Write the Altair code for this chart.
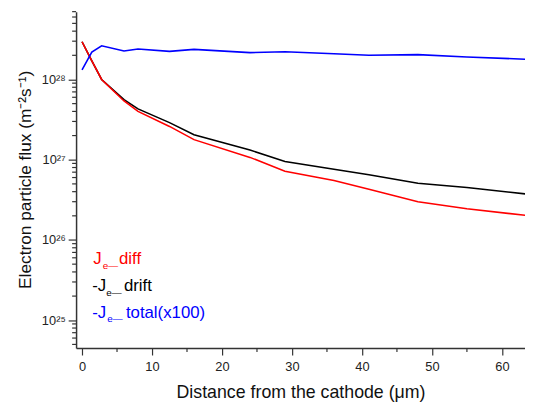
import altair as alt
import pandas as pd

# Data (x in µm, flux in m^-2 s^-1)
x_um = [0, 1.4, 2.8, 6, 8, 12.5, 16, 24, 29, 36, 41, 48, 55, 64]
j_diff = [2.95e28, 1.70e28, 1.0e28, 5.4e27, 4.0e27, 2.6e27, 1.78e27, 1.07e27,
          7.2e26, 5.5e26, 4.3e26, 3.0e26, 2.45e26, 2.0e26]
j_drift = [2.95e28, 1.70e28, 1.0e28, 5.6e27, 4.3e27, 2.9e27, 2.05e27, 1.32e27,
           9.5e26, 7.6e26, 6.5e26, 5.1e26, 4.5e26, 3.7e26]
j_total = [1.32e28, 2.19e28, 2.63e28, 2.26e28, 2.40e28, 2.24e28, 2.37e28, 2.16e28,
           2.22e28, 2.09e28, 2.0e28, 2.04e28, 1.91e28, 1.78e28]

series_names = ["diff", "drift", "total"]
series_colors = ["#ff0000", "#000000", "#0000ff"]

x_major = [0, 10, 20, 30, 40, 50, 60]
x_minor = [5, 15, 25, 35, 45, 55]
y_decades = [25, 26, 27, 28]
y_min, y_max = 4.5e24, 7e28

legend_prefix = ["J", "-J", "-J"]
legend_suffix = ["diff", "drift", "total(x100)"]

PLOT_W = 455
PLOT_H = 341
x_scale = alt.Scale(domain=[-0.85, 63.3], nice=False, zero=False)
y_scale = alt.Scale(type="log", domain=[y_min, y_max], nice=False)

y_major = [10.0 ** e for e in y_decades]
y_minor = []
for e in range(24, 29):
    for m in range(2, 10):
        v = m * 10.0 ** e
        if y_min <= v <= y_max:
            y_minor.append(v)

sup = {25: "10²⁵", 26: "10²⁶", 27: "10²⁷", 28: "10²⁸"}
lab = "''"
for e in y_decades:
    lab = f"round(log(datum.value)/LN10) == {e} ? '{sup[e]}' : ({lab})"

FONT = "Liberation Sans"
AX = "#333333"

x_axis = alt.Axis(values=x_major, title="Distance from the cathode (μm)",
                  tickSize=7, grid=False, domainColor=AX, tickColor=AX, labelColor="#222",
                  labelFontSize=13, labelPadding=6, titleFontSize=18,
                  titleFontWeight="normal", titlePadding=10, titleColor="#111",
                  labelFont=FONT, titleFont=FONT, domainWidth=1.5, tickWidth=1.2)
y_axis = alt.Axis(values=y_major, title="Electron particle flux (m⁻²s⁻¹)",
                  labelExpr=lab, tickSize=8,
                  grid=False, domainColor=AX, tickColor=AX, labelColor="#222",
                  labelFontSize=13, labelPadding=3, titleFontSize=17.5,
                  titleFontWeight="normal", titleColor="#111",
                  labelFont=FONT, titleFont=FONT, domainWidth=1.5, tickWidth=1.2,
                  titleX=-46, titleY=170, titleBaseline="alphabetic",
                  titleAngle=270, titleAlign="center")


def series_chart(vals, color):
    d = pd.DataFrame({"x": x_um, "y": vals})
    return alt.Chart(d).mark_line(strokeWidth=1.6, clip=True, color=color).encode(
        x=alt.X("x:Q", scale=x_scale, axis=x_axis),
        y=alt.Y("y:Q", scale=y_scale, axis=y_axis),
    )


layers = [
    series_chart(j_drift, series_colors[1]),
    series_chart(j_diff, series_colors[0]),
    series_chart(j_total, series_colors[2]),
]

# minor ticks (data-driven positions through the scales)
layers.append(alt.Chart(pd.DataFrame({"y": y_minor})).mark_rule(
    color=AX, strokeWidth=1.2, clip=False
).encode(y=alt.Y("y:Q", scale=y_scale, axis=y_axis), x=alt.value(0), x2=alt.value(-4)))
layers.append(alt.Chart(pd.DataFrame({"x": x_minor})).mark_rule(
    color=AX, strokeWidth=1.2, clip=False
).encode(x=alt.X("x:Q", scale=x_scale, axis=x_axis), y=alt.value(PLOT_H), y2=alt.value(PLOT_H + 4)))

base_y = [256, 283, 310]
pre_x = [17.5, 16.3, 16.3]
sub_x = [27, 30.5, 31.5]
suf_x = [43.5, 48.5, 50.5]
for i in range(3):
    col = series_colors[i]
    layers.append(alt.Chart(pd.DataFrame({"t": [legend_prefix[i]]})).mark_text(
        align="left", baseline="alphabetic", fontSize=17, font=FONT, color=col
    ).encode(text="t:N", x=alt.value(pre_x[i]), y=alt.value(base_y[i])))
    layers.append(alt.Chart(pd.DataFrame({"t": ["e—"]})).mark_text(
        align="left", baseline="alphabetic", fontSize=10, font=FONT, color=col
    ).encode(text="t:N", x=alt.value(sub_x[i]), y=alt.value(base_y[i] + 5)))
    layers.append(alt.Chart(pd.DataFrame({"t": [legend_suffix[i]]})).mark_text(
        align="left", baseline="alphabetic", fontSize=17, font=FONT, color=col
    ).encode(text="t:N", x=alt.value(suf_x[i]), y=alt.value(base_y[i])))

chart = alt.layer(*layers).properties(
    width=PLOT_W, height=PLOT_H,
    autosize=alt.AutoSizeParams(type="none"),
    padding={"left": 69, "top": 1, "right": 0, "bottom": 56},
).configure_view(stroke=None)

chart.save("out.html", embed_options={"renderer": "svg", "actions": False})
